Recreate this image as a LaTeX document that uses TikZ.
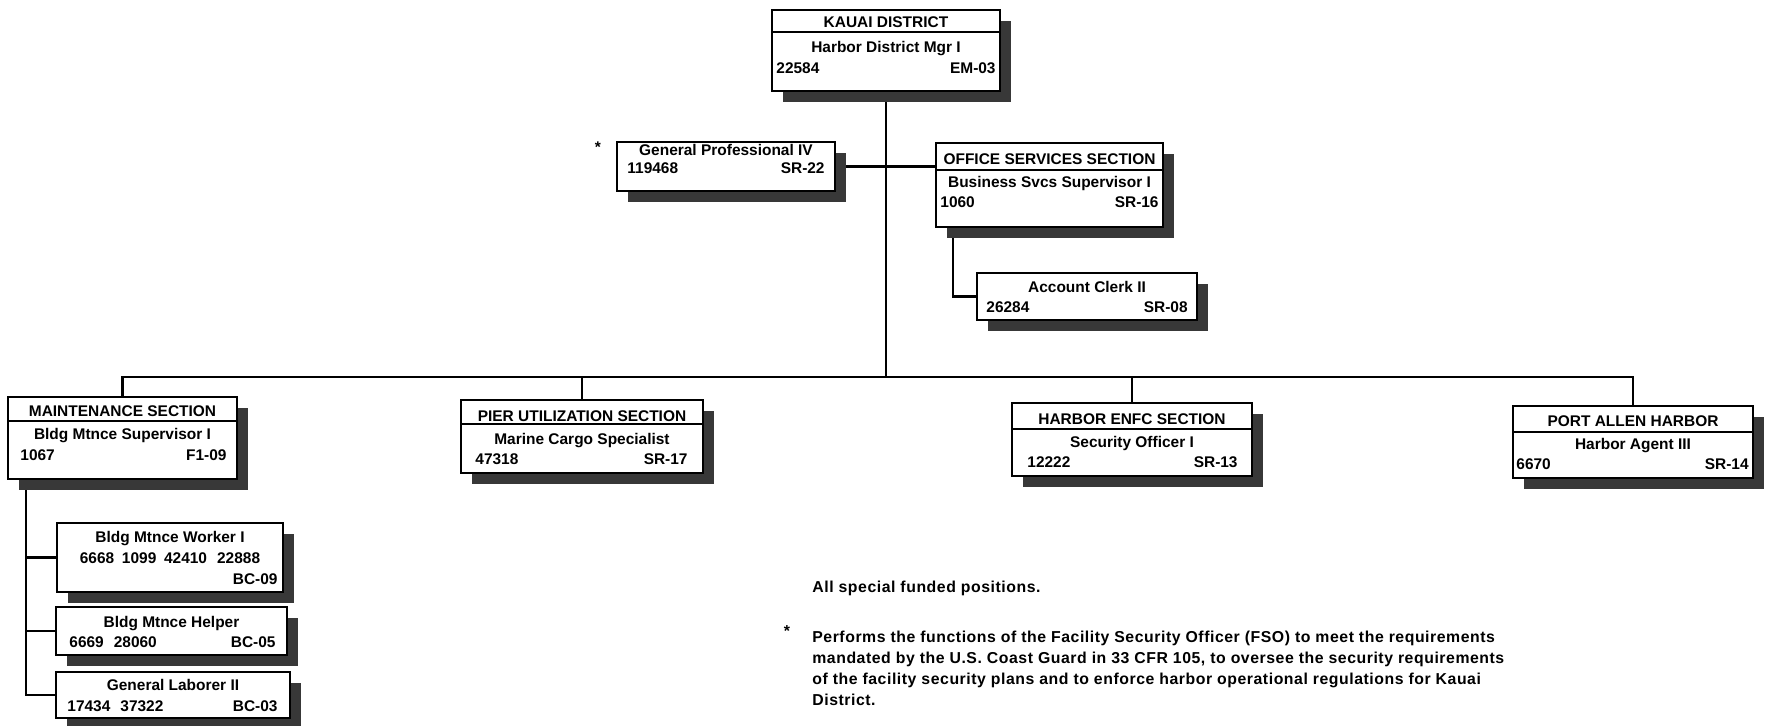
\documentclass[tikz,border=0pt]{standalone}
\usepackage{fontspec}
\setsansfont{Liberation Sans}
\newfontfamily\notefont[LetterSpace=3.5]{Liberation Sans}
\usetikzlibrary{positioning, calc, shadows}
\pgfdeclarelayer{background}
\pgfsetlayers{background,main}

\begin{document}
\begin{tikzpicture}[
    x=0.02cm, y=0.02cm,
    font=\sffamily\bfseries,
    % position boxes with the heavy grey drop shadow
    posbox/.style={draw, line width=1.1pt, fill=white, inner sep=0pt,
        drop shadow={shadow xshift=0.22cm, shadow yshift=-0.22cm, fill=black!78, opacity=1}},
    divider/.style={line width=0.8pt},
    txt/.style={font=\sffamily\bfseries\fontsize{8.8}{10}\selectfont, inner sep=0pt, anchor=base},
    numl/.style={txt, anchor=base west},
    numr/.style={txt, anchor=base east},
    % connectors
    link/.style={line width=1.2pt},
    note/.style={font=\notefont\bfseries\fontsize{9}{11.9}\selectfont, inner sep=0pt, align=left}
]
\useasboundingbox (0,0) rectangle (1769,-726);

% ===============================
% District level
% ===============================
\node[posbox, minimum width=4.56cm, minimum height=1.62cm] (kauai) at (886,-50.5) {};
\draw[divider] ($(kauai.north west)+(0,-23)$) -- ($(kauai.north east)+(0,-23)$);
\node[txt] (kauaiH) at ($(kauai.north)+(0,-18)$) {KAUAI DISTRICT};
\node[txt] (kauaiT) at ($(kauai.north)+(0,-43)$) {Harbor District Mgr I};
\node[numl] (kauaiN) at ($(kauai.north west)+(5,-64)$) {22584};
\node[numr] (kauaiG) at ($(kauai.north east)+(-5,-64)$) {EM-03};

% staff position
\node[posbox, minimum width=4.36cm, minimum height=0.98cm] (gp) at (726,-166.5) {};
\node[txt] (gpT) at ($(gp.north)+(0,-14)$) {General Professional IV};
\node[numl] (gpN) at ($(gp.north west)+(11,-32)$) {119468};
\node[numr] (gpG) at ($(gp.north east)+(-11,-32)$) {SR-22};
\node[txt, anchor=center] (gpStar) at (598,-147) {*};

% office services
\node[posbox, minimum width=4.54cm, minimum height=1.68cm] (oss) at (1049.5,-185) {};
\draw[divider] ($(oss.north west)+(0,-28)$) -- ($(oss.north east)+(0,-28)$);
\node[txt] (ossH) at ($(oss.north)+(0,-22)$) {OFFICE SERVICES SECTION};
\node[txt] (ossT) at ($(oss.north)+(0,-45)$) {Business Svcs Supervisor I};
\node[numl] (ossN) at ($(oss.north west)+(5,-65)$) {1060};
\node[numr] (ossG) at ($(oss.north east)+(-5,-65)$) {SR-16};

\node[posbox, minimum width=4.40cm, minimum height=0.94cm] (ac) at (1087,-296.5) {};
\node[txt] (acT) at ($(ac.north)+(0,-20)$) {Account Clerk II};
\node[numl] (acN) at ($(ac.north west)+(10,-40)$) {26284};
\node[numr] (acG) at ($(ac.north east)+(-10,-40)$) {SR-08};

% ===============================
% Sections
% ===============================
\node[posbox, minimum width=4.58cm, minimum height=1.64cm] (maint) at (122.5,-438) {};
\draw[divider] ($(maint.north west)+(0,-25)$) -- ($(maint.north east)+(0,-25)$);
\node[txt] (maintH) at ($(maint.north)+(0,-20)$) {MAINTENANCE SECTION};
\node[txt] (maintT) at ($(maint.north)+(0,-43)$) {Bldg Mtnce Supervisor I};
\node[numl] (maintN) at ($(maint.north west)+(13,-64)$) {1067};
\node[numr] (maintG) at ($(maint.north east)+(-11,-64)$) {F1-09};

\node[posbox, minimum width=4.84cm, minimum height=1.46cm] (pier) at (582,-436.5) {};
\draw[divider] ($(pier.north west)+(0,-25)$) -- ($(pier.north east)+(0,-25)$);
\node[txt] (pierH) at ($(pier.north)+(0,-22)$) {PIER UTILIZATION SECTION};
\node[txt] (pierT) at ($(pier.north)+(0,-45)$) {Marine Cargo Specialist};
\node[numl] (pierN) at ($(pier.north west)+(15,-65)$) {47318};
\node[numr] (pierG) at ($(pier.north east)+(-16,-65)$) {SR-17};

\node[posbox, minimum width=4.80cm, minimum height=1.46cm] (he) at (1132,-439.5) {};
\draw[divider] ($(he.north west)+(0,-27)$) -- ($(he.north east)+(0,-27)$);
\node[txt] (heH) at ($(he.north)+(0,-22)$) {HARBOR ENFC SECTION};
\node[txt] (heT) at ($(he.north)+(0,-45)$) {Security Officer I};
\node[numl] (heN) at ($(he.north west)+(16,-65)$) {12222};
\node[numr] (heG) at ($(he.north east)+(-15,-65)$) {SR-13};

\node[posbox, minimum width=4.80cm, minimum height=1.44cm] (pah) at (1633,-442) {};
\draw[divider] ($(pah.north west)+(0,-27)$) -- ($(pah.north east)+(0,-27)$);
\node[txt] (pahH) at ($(pah.north)+(0,-21)$) {PORT ALLEN HARBOR};
\node[txt] (pahT) at ($(pah.north)+(0,-44)$) {Harbor Agent III};
\node[numl] (pahN) at ($(pah.north west)+(4,-64)$) {6670};
\node[numr] (pahG) at ($(pah.north east)+(-5,-64)$) {SR-14};

% maintenance staff
\node[posbox, minimum width=4.52cm, minimum height=1.38cm] (work) at (170,-557.5) {};
\node[txt] (workT) at ($(work.north)+(0,-20)$) {Bldg Mtnce Worker I};
\node[txt] (workN) at ($(work.north)+(0,-41)$) {6668\enspace1099\enspace42410\hspace{0.65em}22888};
\node[numr] (workG) at ($(work.north east)+(-6,-62)$) {BC-09};

\node[posbox, minimum width=4.62cm, minimum height=0.96cm] (help) at (171.5,-631) {};
\node[txt] (helpT) at ($(help.north)+(0,-21)$) {Bldg Mtnce Helper};
\node[numl] (helpN) at ($(help.north west)+(14,-41)$) {6669\hspace{0.65em}28060};
\node[numr] (helpG) at ($(help.north east)+(-12,-41)$) {BC-05};

\node[posbox, minimum width=4.68cm, minimum height=0.92cm] (labr) at (173,-695) {};
\node[txt] (labrT) at ($(labr.north)+(0,-19)$) {General Laborer II};
\node[numl] (labrN) at ($(labr.north west)+(12,-40)$) {17434\hspace{0.65em}37322};
\node[numr] (labrG) at ($(labr.north east)+(-13,-40)$) {BC-03};

% ===============================
% Notes
% ===============================
\node[note, anchor=base west] (funded) at (812,-592) {All special funded positions.};
\node[note, anchor=center] (fsoStar) at (787,-631) {*};
\node[note, anchor=north west] (fso) at (812,-631) {Performs the functions of the Facility Security Officer (FSO) to meet the requirements\\mandated by the U.S. Coast Guard in 33 CFR 105, to oversee the security requirements\\of the facility security plans and to enforce harbor operational regulations for Kauai\\District.};

% ===============================
% Connectors (behind the shadows)
% ===============================
\begin{pgfonlayer}{background}
    \coordinate (bus) at (886,-377);
    \draw[link] (kauai.south) -- (bus);
    \draw[link] (gp.east) -- (oss.west |- gp.east);
    \draw[link] ($(oss.south west)+(18,0)$) |- (ac.west);
    \draw[link] (maint.north) -- (maint.north |- bus) -- (pah.north |- bus) -- (pah.north);
    \draw[link] (pier.north) -- (pier.north |- bus);
    \draw[link] (he.north) -- (he.north |- bus);
    % maintenance spine
    \coordinate (mspine) at ($(maint.south west)+(19,0)$);
    \draw[link] (mspine) |- (labr.west);
    \draw[link] (mspine |- work.west) -- (work.west);
    \draw[link] (mspine |- help.west) -- (help.west);
\end{pgfonlayer}

\end{tikzpicture}
\end{document}
